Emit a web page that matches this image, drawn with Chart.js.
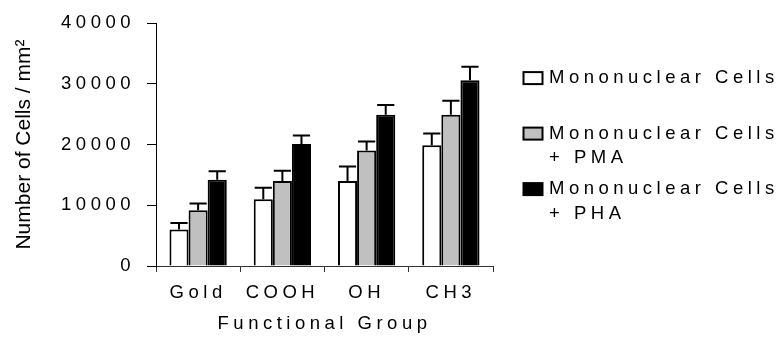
<!DOCTYPE html>
<html>
<head>
<meta charset="utf-8">
<script src="https://cdn.jsdelivr.net/npm/chart.js@4/dist/chart.umd.min.js"></script>
<style>
  html, body { margin: 0; padding: 0; background: #fff; }
  canvas { display: block; }
</style>
</head>
<body>
<canvas id="chart" width="781" height="337"></canvas>
<script>
// Surface chemistry groups on the x axis
const groups = ['Gold', 'COOH', 'OH', 'CH3'];

// Series names (legend lines)
const seriesLines = [
  ['Mononuclear Cells'],
  ['Mononuclear Cells', '+ PMA'],
  ['Mononuclear Cells', '+ PHA']
];

// Mean adherent cell density (cells / mm²)
const cellsPlain = [6000, 11000, 14000, 19900];
const cellsPMA   = [9200, 14000, 19000, 24900];
const cellsPHA   = [14200, 20100, 24900, 30600];

// Upper error (standard deviation) for each bar
const errPlain = [1100, 1900, 2400, 1900];
const errPMA   = [1100, 1700, 1500, 2300];
const errPHA   = [1400, 1400, 1600, 2200];

// Value axis ticks
const yTicks = [0, 10000, 20000, 30000, 40000];

const fills = ['#ffffff', '#c0c0c0', '#000000'];
const FONT = 'Liberation Sans, Arial, sans-serif';
const FONT_SIZE = 18.5;
const SPACED = '4.5px';

const seriesValues = [cellsPlain, cellsPMA, cellsPHA];
const seriesErrors = [errPlain, errPMA, errPHA];

const datasets = seriesValues.map((vals, i) => ({
  label: seriesLines[i].join(' '),
  data: vals,
  errors: seriesErrors[i],
  legendLines: seriesLines[i],
  backgroundColor: fills[i],
  borderColor: '#000',
  borderWidth: 2,
  borderSkipped: 'start',
  categoryPercentage: 0.68,
  barPercentage: 1.0
}));

// Letter-spaced text for ticks and titles
const spacingPlugin = {
  id: 'spacing',
  beforeDraw(chart) { chart.ctx.letterSpacing = SPACED; }
};

// Upper error bars with caps
const errorBarPlugin = {
  id: 'errorBars',
  afterDatasetsDraw(chart) {
    const ctx = chart.ctx;
    const y = chart.scales.y;
    ctx.save();
    ctx.strokeStyle = '#000';
    ctx.lineWidth = 2;
    chart.data.datasets.forEach((ds, i) => {
      const meta = chart.getDatasetMeta(i);
      meta.data.forEach((bar, j) => {
        const top = y.getPixelForValue(ds.data[j] + ds.errors[j]);
        const half = bar.width * 0.45;
        ctx.beginPath();
        ctx.moveTo(bar.x, bar.y);
        ctx.lineTo(bar.x, top);
        ctx.moveTo(bar.x - half, top);
        ctx.lineTo(bar.x + half, top);
        ctx.stroke();
      });
    });
    ctx.restore();
  }
};

// Y axis title and the legend block on the right
const annotationsPlugin = {
  id: 'annotations',
  afterDraw(chart) {
    const ctx = chart.ctx;
    const area = chart.chartArea;
    ctx.save();
    ctx.fillStyle = '#000';
    ctx.letterSpacing = '0px';
    ctx.font = '21px ' + FONT;
    ctx.textAlign = 'center';
    ctx.textBaseline = 'middle';
    ctx.translate(24, (area.top + area.bottom) / 2);
    ctx.rotate(-Math.PI / 2);
    ctx.fillText('Number of Cells / mm²', 0, 0);
    ctx.restore();

    ctx.save();
    ctx.letterSpacing = SPACED;
    ctx.font = FONT_SIZE + 'px ' + FONT;
    ctx.textAlign = 'left';
    ctx.textBaseline = 'middle';
    const boxX = area.right + 30.5, boxW = 19, boxH = 12;
    const textX = area.right + 56;
    const firstY = area.top + 55, itemStep = 55.5, lineStep = 24.5;
    chart.data.datasets.forEach((ds, i) => {
      const yy = firstY + i * itemStep;
      ctx.fillStyle = ds.backgroundColor;
      ctx.fillRect(boxX, yy - boxH / 2, boxW, boxH);
      ctx.strokeStyle = '#000';
      ctx.lineWidth = 2;
      ctx.strokeRect(boxX, yy - boxH / 2, boxW, boxH);
      ctx.fillStyle = '#000';
      ds.legendLines.forEach((line, k) => {
        ctx.fillText(line, textX, yy + k * lineStep);
      });
    });
    ctx.restore();
  }
};

new Chart(document.getElementById('chart'), {
  type: 'bar',
  data: { labels: groups, datasets },
  plugins: [spacingPlugin, errorBarPlugin, annotationsPlugin],
  options: {
    responsive: false,
    animation: false,
    devicePixelRatio: 1,
    layout: { padding: { top: 22, right: 288, bottom: 0, left: 0 } },
    plugins: { legend: { display: false }, tooltip: { enabled: false } },
    scales: {
      x: {
        grid: { display: true, drawOnChartArea: false, offset: true, tickLength: 6, color: '#333' },
        border: { color: '#333', width: 1 },
        ticks: { font: { family: FONT, size: FONT_SIZE }, color: '#000', padding: 10, maxRotation: 0, autoSkip: false },
        title: { display: true, text: 'Functional Group', color: '#000',
                 font: { family: FONT, size: FONT_SIZE }, padding: { top: 0, bottom: 1.5 } },
        afterFit(scale) { scale.height = 71; }
      },
      y: {
        min: yTicks[0],
        max: yTicks[yTicks.length - 1],
        afterBuildTicks(scale) { scale.ticks = yTicks.map(v => ({ value: v })); },
        grid: { display: true, drawOnChartArea: false, tickLength: 9, color: '#000' },
        border: { color: '#000', width: 1 },
        ticks: { font: { family: FONT, size: FONT_SIZE }, color: '#000', padding: 12,
                 callback: v => String(v) },
        afterFit(scale) { scale.width = 156; }
      }
    }
  }
});
</script>
</body>
</html>
